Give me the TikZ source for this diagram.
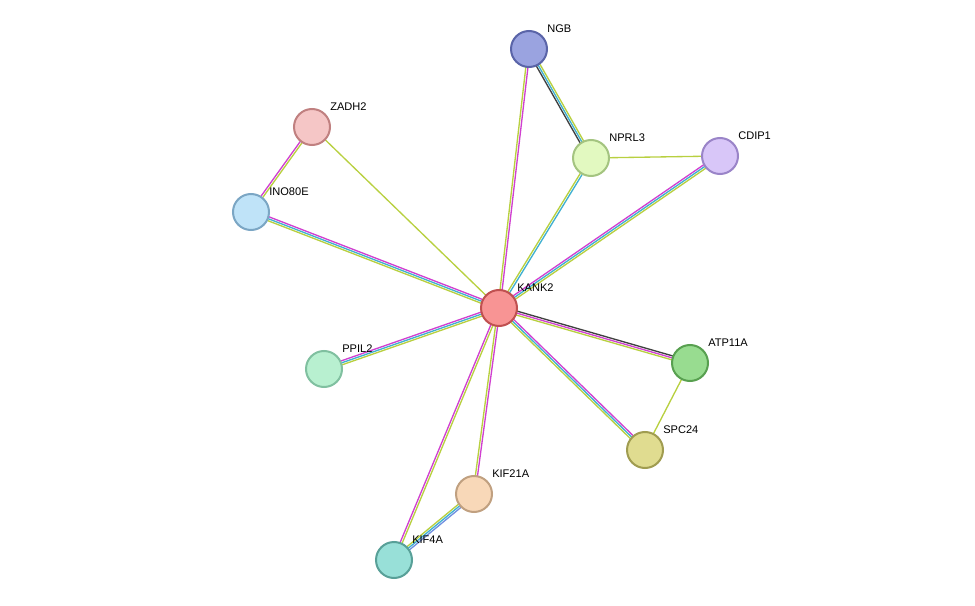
\documentclass[tikz,border=0pt]{standalone}
\usepackage{fontspec}
\setmainfont{Liberation Sans}
\usetikzlibrary{calc}
\definecolor{ecm}{HTML}{D040D0}
\definecolor{ecy}{HTML}{B8D040}
\definecolor{ecc}{HTML}{40B0D0}
\definecolor{ecd}{HTML}{404040}
\definecolor{ecb}{HTML}{7090E0}
\newcommand{\ed}[4]{\draw[draw=e#4,line width=1pt] ($(#1)!#3!90:(#2)$) -- ($(#2)!#3!-90:(#1)$);}
\tikzset{prot/.style={circle,minimum size=27pt,inner sep=0pt,line width=1.5pt},
lab/.style={font=\fontsize{8.3}{9}\selectfont,anchor=south west,inner sep=0pt}}
\begin{document}
\begin{tikzpicture}[x=0.75pt,y=-0.75pt]
\useasboundingbox (0,0) rectangle (975,606);
\coordinate (NGB) at (529,49);
\coordinate (ZADH2) at (312,127);
\coordinate (INO80E) at (251,212);
\coordinate (NPRL3) at (591,158);
\coordinate (CDIP1) at (720,156);
\coordinate (KANK2) at (499,308);
\coordinate (PPIL2) at (324,369);
\coordinate (ATP11A) at (690,363);
\coordinate (SPC24) at (645,450);
\coordinate (KIF21A) at (474,494);
\coordinate (KIF4A) at (394,560);
\ed{KANK2}{NGB}{-0.8pt}{cm}\ed{KANK2}{NGB}{0.8pt}{cy}
\ed{NGB}{NPRL3}{-1.5pt}{cd}\ed{NGB}{NPRL3}{0pt}{cc}\ed{NGB}{NPRL3}{1.5pt}{cy}
\ed{NPRL3}{KANK2}{-0.8pt}{cy}\ed{NPRL3}{KANK2}{0.8pt}{cc}
\ed{NPRL3}{CDIP1}{0pt}{cy}
\ed{CDIP1}{KANK2}{-1.5pt}{cm}\ed{CDIP1}{KANK2}{0pt}{cc}\ed{CDIP1}{KANK2}{1.5pt}{cy}
\ed{ZADH2}{INO80E}{-0.8pt}{cm}\ed{ZADH2}{INO80E}{0.8pt}{cy}
\ed{ZADH2}{KANK2}{0pt}{cy}
\ed{INO80E}{KANK2}{-1.5pt}{cy}\ed{INO80E}{KANK2}{0pt}{cc}\ed{INO80E}{KANK2}{1.5pt}{cm}
\ed{PPIL2}{KANK2}{1.5pt}{cm}\ed{PPIL2}{KANK2}{0pt}{cc}\ed{PPIL2}{KANK2}{-1.5pt}{cy}
\ed{KANK2}{ATP11A}{1.5pt}{cd}\ed{KANK2}{ATP11A}{0pt}{cm}\ed{KANK2}{ATP11A}{-1.5pt}{cy}
\ed{ATP11A}{SPC24}{0pt}{cy}
\ed{KANK2}{SPC24}{1.5pt}{cm}\ed{KANK2}{SPC24}{0pt}{cc}\ed{KANK2}{SPC24}{-1.5pt}{cy}
\ed{KANK2}{KIF21A}{0.8pt}{cm}\ed{KANK2}{KIF21A}{-0.8pt}{cy}
\ed{KANK2}{KIF4A}{0.8pt}{cy}\ed{KANK2}{KIF4A}{-0.8pt}{cm}
\ed{KIF21A}{KIF4A}{-1.5pt}{cy}\ed{KIF21A}{KIF4A}{0pt}{cc}\ed{KIF21A}{KIF4A}{1.5pt}{cb}
\foreach \n/\f/\d in {NGB/9AA3E0/5A64A8,ZADH2/F5C6C6/C08080,INO80E/BFE3F8/7BA6C4,NPRL3/E2F9C0/A4C480,CDIP1/D8C6F8/9A84C8,KANK2/F89494/C05050,PPIL2/B8F0D0/80C0A0,ATP11A/98DC90/58A050,SPC24/E0DC90/A09C50,KIF21A/F8D8B8/C0A080,KIF4A/98E0D8/58A098}{
 \definecolor{nf}{HTML}{\f}\definecolor{nd}{HTML}{\d}
 \node[prot,fill=nf,draw=nd] (n\n) at (\n) {};}
\node[lab] (lNGB) at (547,33) {NGB};
\node[lab] (lZADH2) at (330,111) {ZADH2};
\node[lab] (lINO80E) at (269,196) {INO80E};
\node[lab] (lNPRL3) at (609,142) {NPRL3};
\node[lab] (lCDIP1) at (738,140) {CDIP1};
\node[lab] (lKANK2) at (517,292) {KANK2};
\node[lab] (lPPIL2) at (342,353) {PPIL2};
\node[lab] (lATP11A) at (708,347) {ATP11A};
\node[lab] (lSPC24) at (663,434) {SPC24};
\node[lab] (lKIF21A) at (492,478) {KIF21A};
\node[lab] (lKIF4A) at (412,544) {KIF4A};
\end{tikzpicture}
\end{document}
